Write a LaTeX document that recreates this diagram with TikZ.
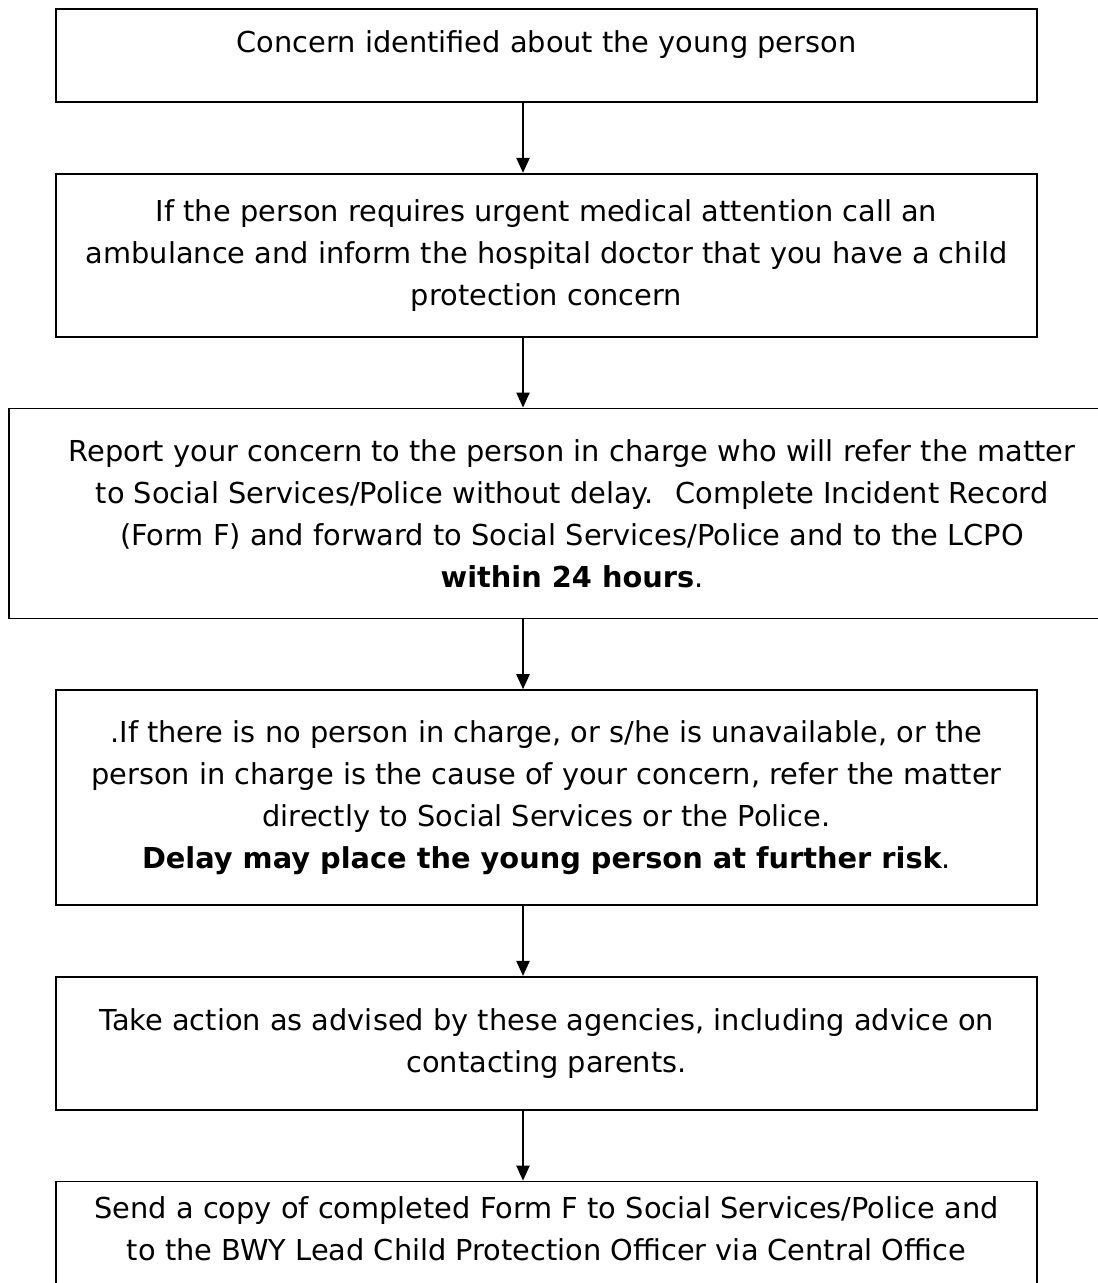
\documentclass[tikz,border=0pt]{standalone}
\usepackage{fontspec}
\setmainfont{DejaVu Sans}
\usetikzlibrary{positioning,arrows.meta}

\tikzset{
  stepbox/.style={draw, shape=rectangle, line width=1.2pt, align=center,
    inner sep=0pt, minimum width=24.525cm,
    font=\fontsize{20.5}{29.9}\selectfont},
  flowarrow/.style={-{Triangle[length=0.375cm,width=0.33cm]}, line width=1.2pt}
}

\begin{document}
\begin{tikzpicture}[node distance=1.75cm]
  \useasboundingbox (0,0) rectangle (27.425,-32.075);
  \coordinate (spine) at (13.075,0);

  \node (concern) [stepbox, minimum height=2.325cm, text height=0.5cm, text depth=0.66cm]
    at (13.6625,-1.3875) {Concern identified about the young person};
  \node (medical) [stepbox, minimum height=4.075cm, below=of concern]
    {If the person requires urgent medical attention call an\\
     ambulance and inform the hospital doctor that you have a child\\
     protection concern};
  \node (report) [stepbox, minimum width=28.15cm, minimum height=5.25cm,
    below=of medical, xshift=0.6375cm]
    {Report your concern to the person in charge who will refer the matter\\
     to Social Services/Police without delay.~ Complete Incident Record\\
     (Form F) and forward to Social Services/Police and to the LCPO\\
     \textbf{within 24 hours}.};
  \node (direct) [stepbox, minimum height=5.375cm, below=of report, xshift=-0.6375cm]
    {.If there is no person in charge, or s/he is unavailable, or the\\
     person in charge is the cause of your concern, refer the matter\\
     directly to Social Services or the Police.\\
     \textbf{Delay may place the young person at further risk}.};
  \node (advice) [stepbox, minimum height=3.325cm, below=of direct]
    {Take action as advised by these agencies, including advice on\\
     contacting parents.};
  \node (copy) [stepbox, minimum height=3cm, text depth=0.65cm, below=of advice]
    {Send a copy of completed Form F to Social Services/Police and\\
     to the BWY Lead Child Protection Officer via Central Office};

  \draw[flowarrow] (concern.south -| spine) -- (medical.north -| spine);
  \draw[flowarrow] (medical.south -| spine) -- (report.north -| spine);
  \draw[flowarrow] (report.south -| spine) -- (direct.north -| spine);
  \draw[flowarrow] (direct.south -| spine) -- (advice.north -| spine);
  \draw[flowarrow] (advice.south -| spine) -- (copy.north -| spine);
\end{tikzpicture}
\end{document}
